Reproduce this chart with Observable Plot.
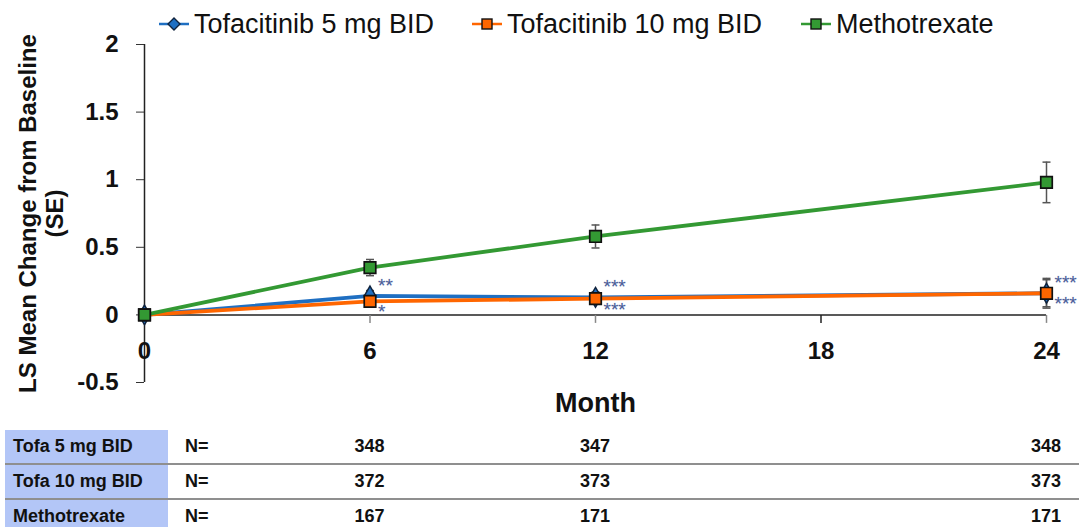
<!DOCTYPE html>
<html>
<head>
<meta charset="utf-8">
<script src="https://cdn.jsdelivr.net/npm/d3@7"></script>
<script src="https://cdn.jsdelivr.net/npm/@observablehq/plot@0.6"></script>
<style>
  html, body { margin: 0; padding: 0; background: #fff; }
  body { width: 1083px; height: 527px; overflow: hidden; font-family: "Liberation Sans", Arial, sans-serif; color: #111; }
  #legend { position: relative; height: 34px; }
  .li { position: absolute; top: 9px; height: 30px; display: flex; align-items: center; font-size: 27px; white-space: nowrap; }
  .li svg { margin-right: 5px; }
  #table { position: relative; margin-top: 5px; width: 1083px; }
  .row { position: relative; height: 33px; }
  .sep { margin-left: 5px; width: 1074px; height: 2px; background: #8f8f8f; }
  .cell { position: absolute; top: 0; height: 33px; line-height: 33px; font-size: 18px; font-weight: bold; }
  .lab { left: 5px; width: 155px; padding-left: 8px; background: #b3c6f7; }
  .num { transform: translateX(-50%); }
</style>
</head>
<body>
<div id="legend"></div>
<div id="chart"></div>
<div id="table"></div>
<script>
// ---- data ----
const seriesNames = ["Tofacitinib 5 mg BID", "Tofacitinib 10 mg BID", "Methotrexate"];
const tableNames = ["Tofa 5 mg BID", "Tofa 10 mg BID", "Methotrexate"];
const colors = ["#1f6fc2", "#ff6600", "#339933"];
const months = [0, 6, 12, 24];
const tofa5 = [0, 0.14, 0.13, 0.16];
const tofa10 = [0, 0.10, 0.12, 0.16];
const mtx = [0, 0.35, 0.58, 0.98];
const tofa5SE = [0, 0.04, 0.04, 0.10];
const tofa10SE = [0, 0.04, 0.04, 0.11];
const mtxSE = [0, 0.06, 0.085, 0.15];
const tofa5Stars = ["", "**", "***", "***"];
const tofa10Stars = ["", "*", "***", "***"];
const xTickLabels = [0, 6, 12, 18, 24];
const xTickMarks = [6, 12, 18, 24];
const yTicks = [-0.5, 0, 0.5, 1, 1.5, 2];
const nMonths = [6, 12, 24];
const nTofa5 = [348, 347, 348];
const nTofa10 = [372, 373, 373];
const nMtx = [167, 171, 171];

// ---- build rows ----
const valueSets = [tofa5, tofa10, mtx];
const seSets = [tofa5SE, tofa10SE, mtxSE];
const rows = [];
valueSets.forEach((vals, s) => months.forEach((m, i) => rows.push({series: seriesNames[s], s, month: m, value: vals[i], se: seSets[s][i]})));
const errRows = rows.filter(d => d.se > 0);
const starsAbove = [];
const starsBelow = [];
months.forEach((m, i) => {
  if (tofa5Stars[i]) starsAbove.push({month: m, value: tofa5[i], label: tofa5Stars[i]});
  if (tofa10Stars[i]) starsBelow.push({month: m, value: tofa10[i], label: tofa10Stars[i]});
});

const capSymbol = { draw(ctx, size) { const r = Math.sqrt(size / Math.PI); ctx.moveTo(-r, 0); ctx.lineTo(r, 0); } };
const vTick = { draw(ctx, size) { ctx.moveTo(0, 0); ctx.lineTo(0, 8); } };

const font = "Liberation Sans, Arial, sans-serif";
const starStyle = {x: "month", y: "value", text: "label", textAnchor: "start", dx: 8, fontSize: 19, fill: "#4a5c96", stroke: "#c9d3ee", strokeWidth: 0.4};

const chart = Plot.plot({
  width: 1083,
  height: 391,
  marginTop: 10,
  marginBottom: 43,
  marginLeft: 144,
  marginRight: 37,
  x: {domain: [0, 24], axis: null},
  y: {domain: [-0.5, 2], axis: null},
  color: {domain: seriesNames, range: colors},
  style: {fontFamily: font, background: "white", overflow: "visible", color: "#111"},
  marks: [
    Plot.ruleY([0], {stroke: "#222", strokeWidth: 1.5}),
    Plot.dot(xTickMarks, {x: d => d, y: () => 0, symbol: vTick, r: 4, stroke: d => d === 18 ? "#222" : "#888", strokeWidth: 1.5, fill: "none"}),
    Plot.ruleX([0], {stroke: "#222", strokeWidth: 1.5}),
    Plot.axisY(yTicks, {tickSize: 8, tickPadding: 18, tickFormat: d => String(d), fontSize: 24, fontWeight: "bold", stroke: "#333", fill: "#111", label: null}),
    Plot.text(xTickLabels, {x: d => d, y: () => 0, dy: 36, text: d => String(d), fontSize: 24, fontWeight: "bold", fill: "#111"}),
    Plot.text(["LS Mean Change from Baseline\n(SE)"], {frameAnchor: "left", textAnchor: "middle", lineAnchor: "middle", rotate: -90, dx: -104, fontSize: 24, fontWeight: "bold", lineHeight: 1.12, fill: "#111"}),
    Plot.text(["Month"], {frameAnchor: "bottom", lineAnchor: "middle", dy: 21, fontSize: 27, fontWeight: "bold", fill: "#111"}),
    Plot.line(rows, {x: "month", y: "value", z: "series", stroke: "series", strokeWidth: 3.8}),
    Plot.ruleX(errRows, {x: "month", y1: d => d.value - d.se, y2: d => d.value + d.se, stroke: "#555", strokeWidth: 1.5}),
    Plot.dot(errRows, {x: "month", y: d => d.value - d.se, symbol: capSymbol, r: 4, stroke: "#555", strokeWidth: 1.5, fill: "none"}),
    Plot.dot(errRows, {x: "month", y: d => d.value + d.se, symbol: capSymbol, r: 4, stroke: "#555", strokeWidth: 1.5, fill: "none"}),
    Plot.dot(rows.filter(d => d.s === 0), {x: "month", y: "value", symbol: "diamond", r: 6, fill: colors[0], stroke: "#10233d", strokeWidth: 1.5}),
    Plot.dot(rows.filter(d => d.s === 1), {x: "month", y: "value", symbol: "square", r: 6.5, fill: colors[1], stroke: "#111", strokeWidth: 1.7}),
    Plot.dot(rows.filter(d => d.s === 2), {x: "month", y: "value", symbol: "square", r: 6.5, fill: colors[2], stroke: "#111", strokeWidth: 1.7}),
    Plot.text(starsAbove, {...starStyle, dy: -10}),
    Plot.text(starsBelow, {...starStyle, dy: 11})
  ]
});
document.getElementById("chart").appendChild(chart);

// ---- legend ----
const legend = document.getElementById("legend");
const legendLeft = [159, 472, 801];
const legendSymbols = [
  c => `<polygon points="15,2 21,8 15,14 9,8" fill="${c}" stroke="#10233d" stroke-width="1.4"/>`,
  c => `<rect x="10" y="3" width="10" height="10" fill="${c}" stroke="#111" stroke-width="1.4"/>`,
  c => `<rect x="10" y="3" width="10" height="10" fill="${c}" stroke="#111" stroke-width="1.4"/>`
];
seriesNames.forEach((name, i) => {
  const el = document.createElement("div");
  el.className = "li";
  el.style.left = legendLeft[i] + "px";
  el.innerHTML = `<svg width="30" height="16"><line x1="0" x2="30" y1="8" y2="8" stroke="${colors[i]}" stroke-width="2.5"/>${legendSymbols[i](colors[i])}</svg><span>${name}</span>`;
  legend.appendChild(el);
});

// ---- N table ----
const xs = chart.scale("x");
const table = document.getElementById("table");
const nSets = [nTofa5, nTofa10, nMtx];
tableNames.forEach((name, r) => {
  if (r > 0) { const s = document.createElement("div"); s.className = "sep"; table.appendChild(s); }
  const row = document.createElement("div");
  row.className = "row";
  let html = `<div class="cell lab">${name}</div><div class="cell" style="left:185px">N=</div>`;
  nMonths.forEach((m, j) => {
    html += `<div class="cell num" style="left:${xs.apply(m)}px">${nSets[r][j]}</div>`;
  });
  row.innerHTML = html;
  table.appendChild(row);
});
</script>
</body>
</html>
